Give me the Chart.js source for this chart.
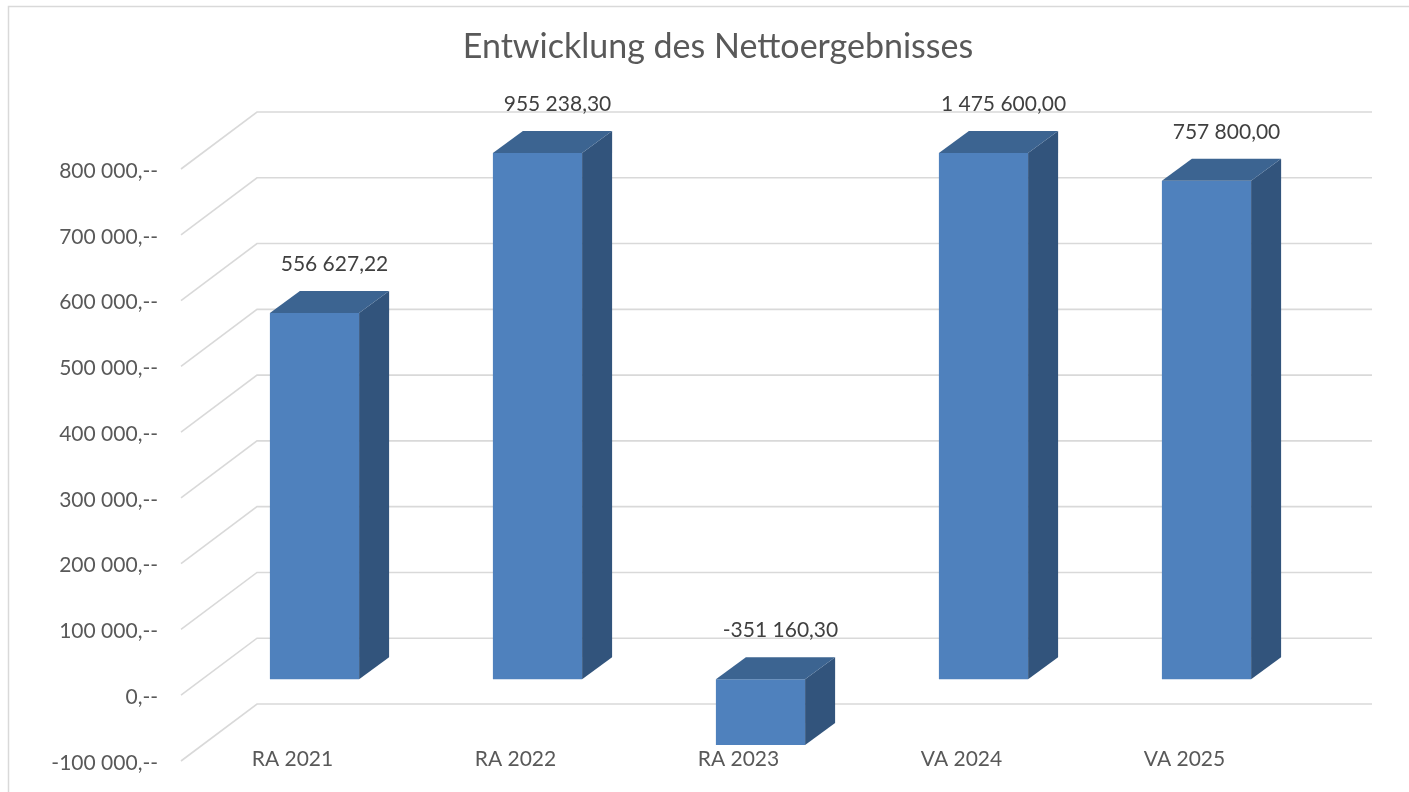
<!DOCTYPE html>
<html><head><meta charset="utf-8">
<script src="https://cdn.jsdelivr.net/npm/chart.js@4/dist/chart.umd.min.js"></script>
<style>html,body{margin:0;padding:0;background:#fff;}#wrap{width:1409px;height:792px;}</style>
</head><body><div id="wrap"><canvas id="c" width="1409" height="792"></canvas></div>
<script>
const chartTitle = 'Entwicklung des Nettoergebnisses';
const categories = ['RA 2021', 'RA 2022', 'RA 2023', 'VA 2024', 'VA 2025'];
const values = [556627.22, 955238.30, -351160.30, 1475600.00, 757800.00];
const yTicks = [-100000, 0, 100000, 200000, 300000, 400000, 500000, 600000, 700000, 800000];

const FONT = 'Lato, "Open Sans", sans-serif';
const COL_FRONT = '#4F81BD', COL_TOP = '#3C6491', COL_SIDE = '#32547C';
const GRID = '#D9D9D9';
const BAR_DEPTH = {dx: 30, dy: -22};
const BACK = {dx: 54, dy: -41};
const FRONT = {dx: -22, dy: 16};

function groupThousands(s) { return s.replace(/\B(?=(\d{3})+(?!\d))/g, ' '); }
function fmtValue(v) { const p = Math.abs(v).toFixed(2).split('.'); return (v < 0 ? '-' : '') + groupThousands(p[0]) + ',' + p[1]; }
function fmtTick(v) { return (v < 0 ? '-' : '') + groupThousands(String(Math.abs(v))) + ',--'; }

const wallsPlugin = {
  id: 'walls',
  beforeDraw(chart) {
    const ctx = chart.ctx, area = chart.chartArea, y = chart.scales.y;
    ctx.save();
    ctx.fillStyle = '#fff';
    ctx.fillRect(0, 0, chart.width, chart.height);
    ctx.strokeStyle = GRID; ctx.lineWidth = 1.5;
    ctx.beginPath();
    ctx.moveTo(8.5, chart.height + 5); ctx.lineTo(8.5, 6.5); ctx.lineTo(chart.width + 5, 6.5);
    ctx.stroke();
    ctx.lineWidth = 1.6; ctx.strokeStyle = GRID;
    yTicks.forEach(v => {
      const py = y.getPixelForValue(v);
      ctx.beginPath();
      ctx.moveTo(area.left + FRONT.dx, py + FRONT.dy);
      ctx.lineTo(area.left + BACK.dx, py + BACK.dy);
      ctx.lineTo(area.right + BACK.dx, py + BACK.dy);
      ctx.stroke();
    });
    ctx.restore();
  },
  afterDatasetsDraw(chart) {
    const ctx = chart.ctx, area = chart.chartArea;
    const meta = chart.getDatasetMeta(0);
    ctx.save();
    meta.data.forEach((bar, i) => {
      const p = bar.getProps(['x', 'y', 'base', 'width'], true);
      const x1 = p.x - p.width / 2, x2 = p.x + p.width / 2;
      const top = Math.max(Math.min(p.y, p.base), area.top);
      const bot = Math.min(Math.max(p.y, p.base), area.bottom);
      const dx = BAR_DEPTH.dx, dy = BAR_DEPTH.dy;
      ctx.fillStyle = COL_SIDE;
      ctx.beginPath();
      ctx.moveTo(x2, top); ctx.lineTo(x2 + dx, top + dy); ctx.lineTo(x2 + dx, bot + dy); ctx.lineTo(x2, bot);
      ctx.closePath(); ctx.fill();
      ctx.fillStyle = COL_TOP;
      ctx.beginPath();
      ctx.moveTo(x1, top); ctx.lineTo(x1 + dx, top + dy); ctx.lineTo(x2 + dx, top + dy); ctx.lineTo(x2, top);
      ctx.closePath(); ctx.fill();
      ctx.fillStyle = '#404040';
      ctx.font = '21px ' + FONT;
      ctx.textAlign = 'center'; ctx.textBaseline = 'middle';
      ctx.fillText(fmtValue(values[i]), p.x + 20, top + dy - 27);
    });
    ctx.restore();
  },
  afterDraw(chart) {
    const ctx = chart.ctx;
    ctx.save();
    ctx.fillStyle = '#595959';
    ctx.font = '34px ' + FONT;
    ctx.textAlign = 'center'; ctx.textBaseline = 'middle';
    ctx.fillText(chartTitle, 718, 47);
    ctx.restore();
  }
};

new Chart(document.getElementById('c'), {
  type: 'bar',
  data: {
    labels: categories,
    datasets: [{
      data: values,
      backgroundColor: COL_FRONT,
      borderWidth: 0,
      barPercentage: 0.4,
      categoryPercentage: 1.0,
      clip: 0
    }]
  },
  options: {
    responsive: false,
    animation: false,
    devicePixelRatio: 1,
    layout: {padding: {top: 153, right: 91, bottom: 0, left: 0}},
    plugins: {legend: {display: false}, title: {display: false}, tooltip: {enabled: false}},
    scales: {
      x: {
        grid: {display: false, drawTicks: false},
        border: {display: false},
        ticks: {color: '#595959', font: {family: FONT, size: 21}, padding: 2, labelOffset: -22, maxRotation: 0},
        afterFit(s) { s.height = 47; s.paddingLeft = 0; s.paddingRight = 0; }
      },
      y: {
        min: -100000, max: 800000,
        grid: {display: false, drawTicks: false},
        border: {display: false},
        afterBuildTicks(s) { s.ticks = yTicks.map(v => ({value: v})); },
        ticks: {color: '#595959', font: {family: FONT, size: 21}, padding: 45, labelOffset: 18, callback: v => fmtTick(v)},
        afterFit(s) { s.width = 203; s.paddingTop = 0; s.paddingBottom = 0; }
      }
    }
  },
  plugins: [wallsPlugin]
});
</script></body></html>
